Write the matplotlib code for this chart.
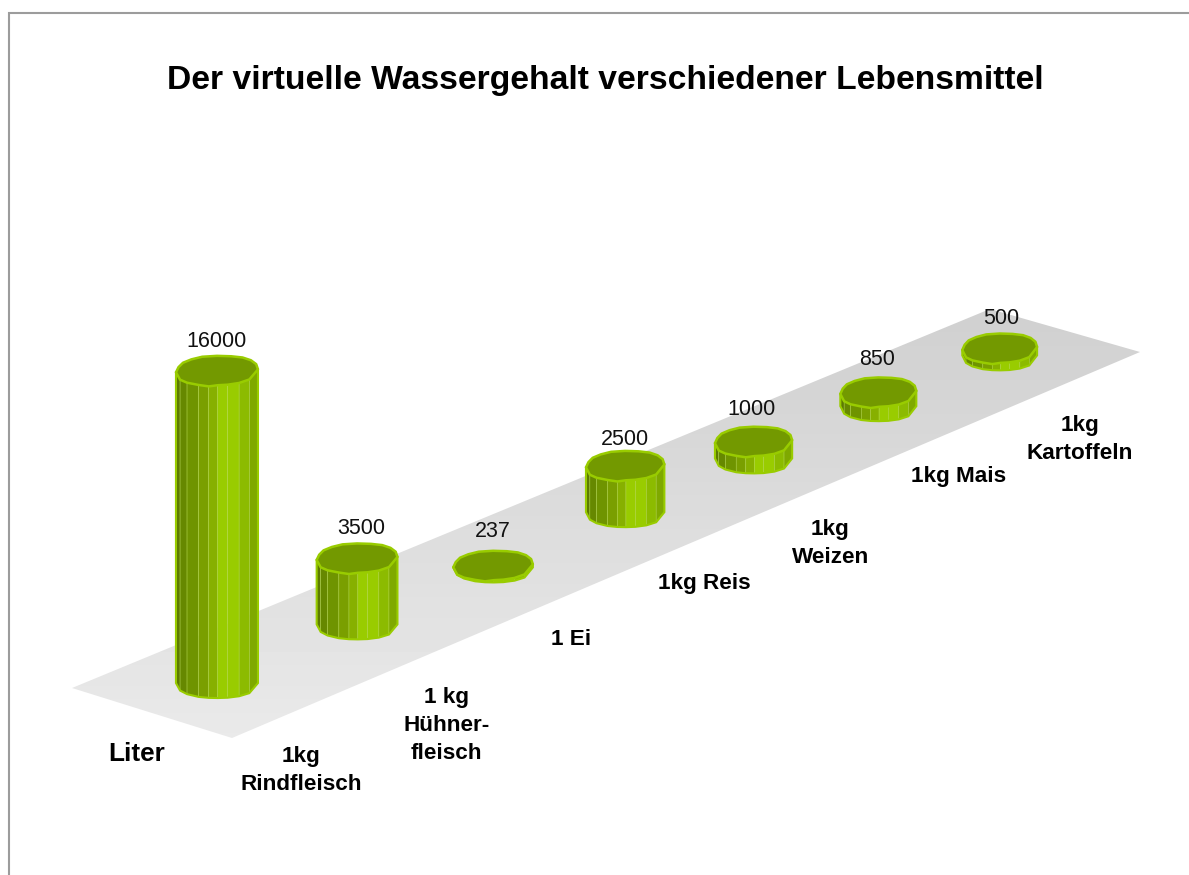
#!/usr/bin/env python
# Virtual water content of foods, drawn as faceted cylinders on a tilted floor

import numpy as np
import matplotlib
matplotlib.use("Agg")
import matplotlib.pyplot as plt
from matplotlib.patches import Polygon

plt.rcParams['font.family'] = ['Liberation Sans', 'DejaVu Sans']

TITLE = "Der virtuelle Wassergehalt verschiedener Lebensmittel"
AXIS_NAME = "Liter"
categories = ["1kg\nRindfleisch", "1 kg\nHühner-\nfleisch", "1 Ei", "1kg Reis",
              "1kg\nWeizen", "1kg Mais", "1kg\nKartoffeln"]
values = [16000, 3500, 237, 2500, 1000, 850, 500]

W, H = 1189, 875

# Floor corners in the picture: (category, depth) -> pixels goes through these
floor_px = np.array([[72, 688], [232, 738], [1140, 352], [990, 309]], dtype=float)
floor_uv = np.array([[0, 0], [0, 1], [7, 1], [7, 0]], dtype=float)
PX_PER_LITER = 0.0197
LID_DROP = 3  # lid sits a little lower than the value says

# Solve the homography once
rows, rhs = [], []
for (u, v), (x, y) in zip(floor_uv, floor_px):
    rows.append([u, v, 1, 0, 0, 0, -u * x, -v * x])
    rows.append([0, 0, 0, u, v, 1, -u * y, -v * y])
    rhs += [x, y]
h = np.append(np.linalg.solve(np.array(rows), np.array(rhs)), 1).reshape(3, 3)


def floor_point(u, v):
    p = h @ np.array([u, v, 1.0])
    return p[0] / p[2], p[1] / p[2]


# Facet edges along the front of a cylinder (-1 left, 1 right) and their colours
front_edges = np.array([-1, -0.9, -0.73, -0.45, -0.2, 0.02, 0.26, 0.54, 0.79, 1])
facet_colors = ["#5c7a00", "#668800", "#6f9400", "#7a9f00", "#87b000",
                "#99cc00", "#99cc00", "#8cbb00", "#7fa900"]
# The lid is a bit uneven, these bend its outline
front_wobble = [1, 1, 0.97, 0.97, 1.03, 0.96, 0.97, 0.98, 0.97, 1]
back_wobble = [1.0, 1.0, 1.0, 0.98, 1.0, 1.02, 1.0, 1.0, 0.98]
LID_TILT = 1.5
SQUARE = 2.25  # slightly rounder than an ellipse at the shoulders
EDGE = "#99cc00"
LID = "#739900"

# small label nudges, pixels
value_gap = [1, 1, 6, -2, 4, 4, 2]
value_dx = [0, 4, 0, 0, -2, -1, 2]
cat_dx = [1, 7, -4, -2, -3, 1, 2]

fig = plt.figure(figsize=(W / 100, H / 100), dpi=100)
ax = fig.add_axes([0, 0, 1, 1])
ax.set_xlim(0, W)
ax.set_ylim(H, 0)
ax.axis("off")

# Chart frame, only top and left show
ax.plot([W, 8.6, 8.6], [13.3, 13.3, H], color="#9c9c9c", lw=1.5, solid_joinstyle="miter")

ax.text(605, 80, TITLE, fontsize=24.25, fontweight="bold", ha="center", va="center")

# Floor with a vertical grey gradient
floor = Polygon(floor_px, closed=True, fc="none", ec="none")
ax.add_patch(floor)
grad = np.linspace(0.815, 0.915, 64).reshape(-1, 1)
img = ax.imshow(grad, extent=[60, 1150, 740, 305], cmap="gray", vmin=0, vmax=1,
                aspect="auto", zorder=1)
img.set_clip_path(floor)
ax.set_xlim(0, W)
ax.set_ylim(H, 0)

for i, (val, label) in enumerate(zip(values, categories)):
    cx, cy = floor_point(i + 0.48, 0.478)
    rx = 41 - 0.6 * i
    ry = 15
    top = cy - val * PX_PER_LITER + LID_DROP

    ex = cx + rx * front_edges
    ey = ry * np.clip(1 - np.abs(front_edges) ** SQUARE, 0, 1) ** (1 / SQUARE)
    # lid front edge, tilted and dented
    ty = top + ey * np.array(front_wobble) - LID_TILT * front_edges

    # side facets
    for k, col in enumerate(facet_colors):
        quad = [(ex[k], cy + ey[k]), (ex[k + 1], cy + ey[k + 1]),
                (ex[k + 1], ty[k + 1]), (ex[k], ty[k])]
        ax.add_patch(Polygon(quad, closed=True, fc=col, ec="#b4d94c", lw=0.3, zorder=3 + i))

    # outline of the whole side
    side = list(zip(ex, cy + ey)) + [(ex[-1], ty[-1]), (ex[0], ty[0])]
    ax.add_patch(Polygon(side, closed=True, fc="none", ec=EDGE, lw=1.5, zorder=3 + i))

    # lid: back edge right to left, then front edge left to right
    ang = np.linspace(0, np.pi, len(back_wobble) + 2)[1:-1]
    back = []
    for a, w in zip(ang, back_wobble):
        bx = np.sign(np.cos(a)) * abs(np.cos(a)) ** (2 / SQUARE)
        by = np.sin(a) ** (2 / SQUARE)
        back.append((cx + rx * w * bx, top - ry * w * by - LID_TILT * bx))
    lid = [(ex[-1], ty[-1])] + back + list(zip(ex, ty))[:-1]
    ax.add_patch(Polygon(lid, closed=True, fc=LID, ec=EDGE, lw=1.8, joinstyle="round", zorder=3 + i))

    ax.text(cx + value_dx[i], top - ry - 3 - value_gap[i], str(val), fontsize=15.5,
            ha="center", va="bottom", color="#111111", zorder=20)

    lx, ly = floor_point(i + 0.5, 1.0)
    ax.text(lx - 3 + cat_dx[i], ly + 38, label, fontsize=16.2, fontweight="bold",
            ha="center", va="top", linespacing=1.45, zorder=20)

ax.text(137, 754, AXIS_NAME, fontsize=18.8, fontweight="bold", ha="center", va="center")

fig.savefig("out.png", dpi=100)
